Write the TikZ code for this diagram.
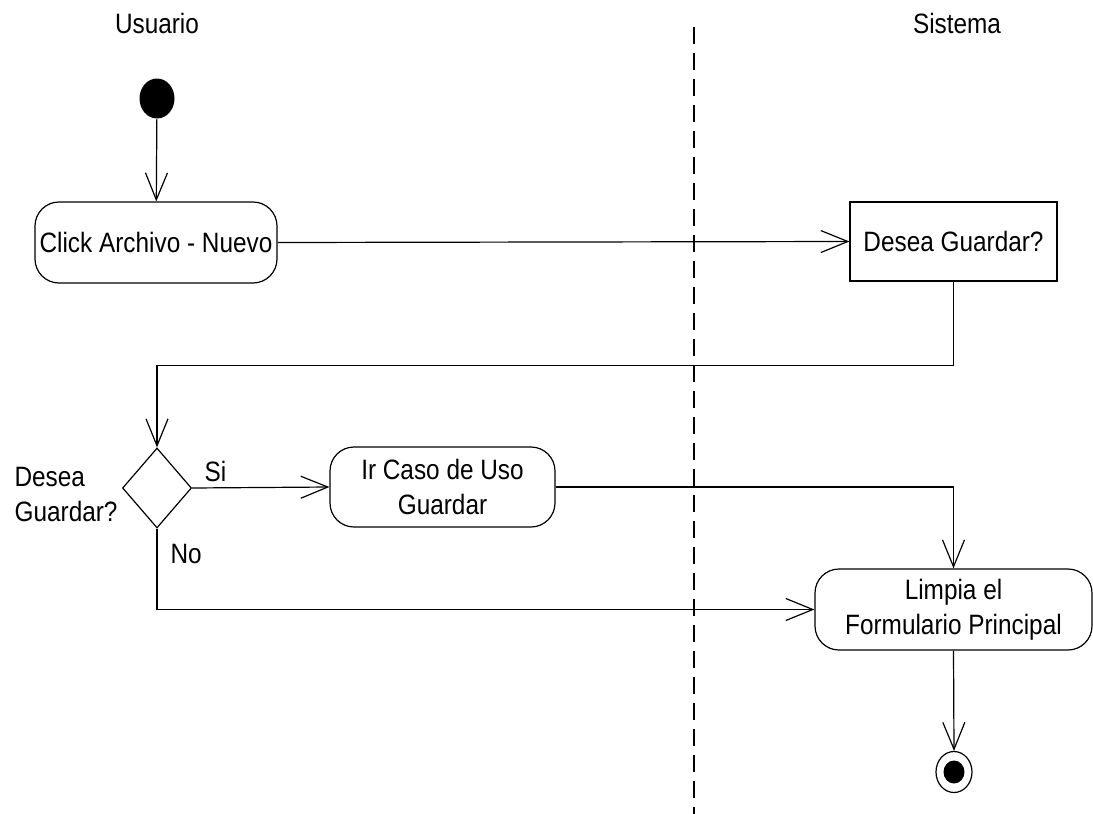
\documentclass[tikz,border=0pt]{standalone}
\usepackage{fontspec}
\setmainfont{Liberation Sans}[FakeStretch=0.87]
\usetikzlibrary{arrows.meta,shapes.geometric}
\begin{document}
\begin{tikzpicture}[x=1pt,y=-1pt,
  line width=1.2pt,
  every node/.style={font=\fontsize{28}{35}\selectfont},
  flow/.style={draw,-{Straight Barb[length=27pt,width=22pt,line width=1.2pt]}},
  action/.style={draw,rounded corners=24pt,inner sep=0pt,align=center},
  task/.style={draw,inner sep=0pt,align=center},
  choice/.style={draw,diamond,inner sep=0pt,minimum width=69pt,minimum height=80pt},
  lane/.style={anchor=base},
  guard/.style={anchor=base west,inner sep=0pt}]
  \useasboundingbox (0,0) rectangle (1093,814);

  % swimlane titles and divider
  \node[lane] (usuario) at (157,33) {Usuario};
  \node[lane] (sistema) at (957,33) {Sistema};
  \coordinate (divtop) at (694,27);
  \coordinate (divbot) at (694,814);
  \draw[dash pattern=on 17pt off 9pt] (divtop) -- (divbot);

  % activity nodes
  \node[ellipse,fill=black,inner sep=0pt,minimum width=35pt,minimum height=40pt] (start) at (157,98.5) {};
  \node[action,minimum width=242pt,minimum height=81pt] (click) at (156,242.5) {Click Archivo - Nuevo};
  \node[task,minimum width=207pt,minimum height=79pt] (ask) at (953.5,241.5) {Desea Guardar?};
  \node[choice] (dec) at (157,488) {};
  \node[action,minimum width=225pt,minimum height=80pt] (save) at (442.5,487) {Ir Caso de Uso\\Guardar};
  \node[action,minimum width=277pt,minimum height=81pt] (clear) at (953.5,609.5) {Limpia el\\Formulario Principal};
  \node[ellipse,draw,inner sep=0pt,minimum width=36pt,minimum height=41pt] (stop) at (954,772) {};
  \fill (stop.center) ellipse [x radius=10.5pt,y radius=11.5pt];

  % decision labels
  \node[guard,align=left] (q) at (14,521) {Desea\\Guardar?};
  \node[guard] (si) at (204,481) {Si};
  \node[guard] (no) at (170,563) {No};

  % control flow
  \draw[flow] (start) -- (click);
  \draw[flow] (click.east) -- (ask.west);
  \draw[flow] (ask.south) -- ++(0,84) -| (dec.north);
  \draw[flow] (dec.east) -- (save.west);
  \draw[flow] (save.east) -| (clear.north);
  \draw[flow] (dec.south) |- (clear.west);
  \draw[flow] (clear.south) -- (stop.north);
\end{tikzpicture}
\end{document}
